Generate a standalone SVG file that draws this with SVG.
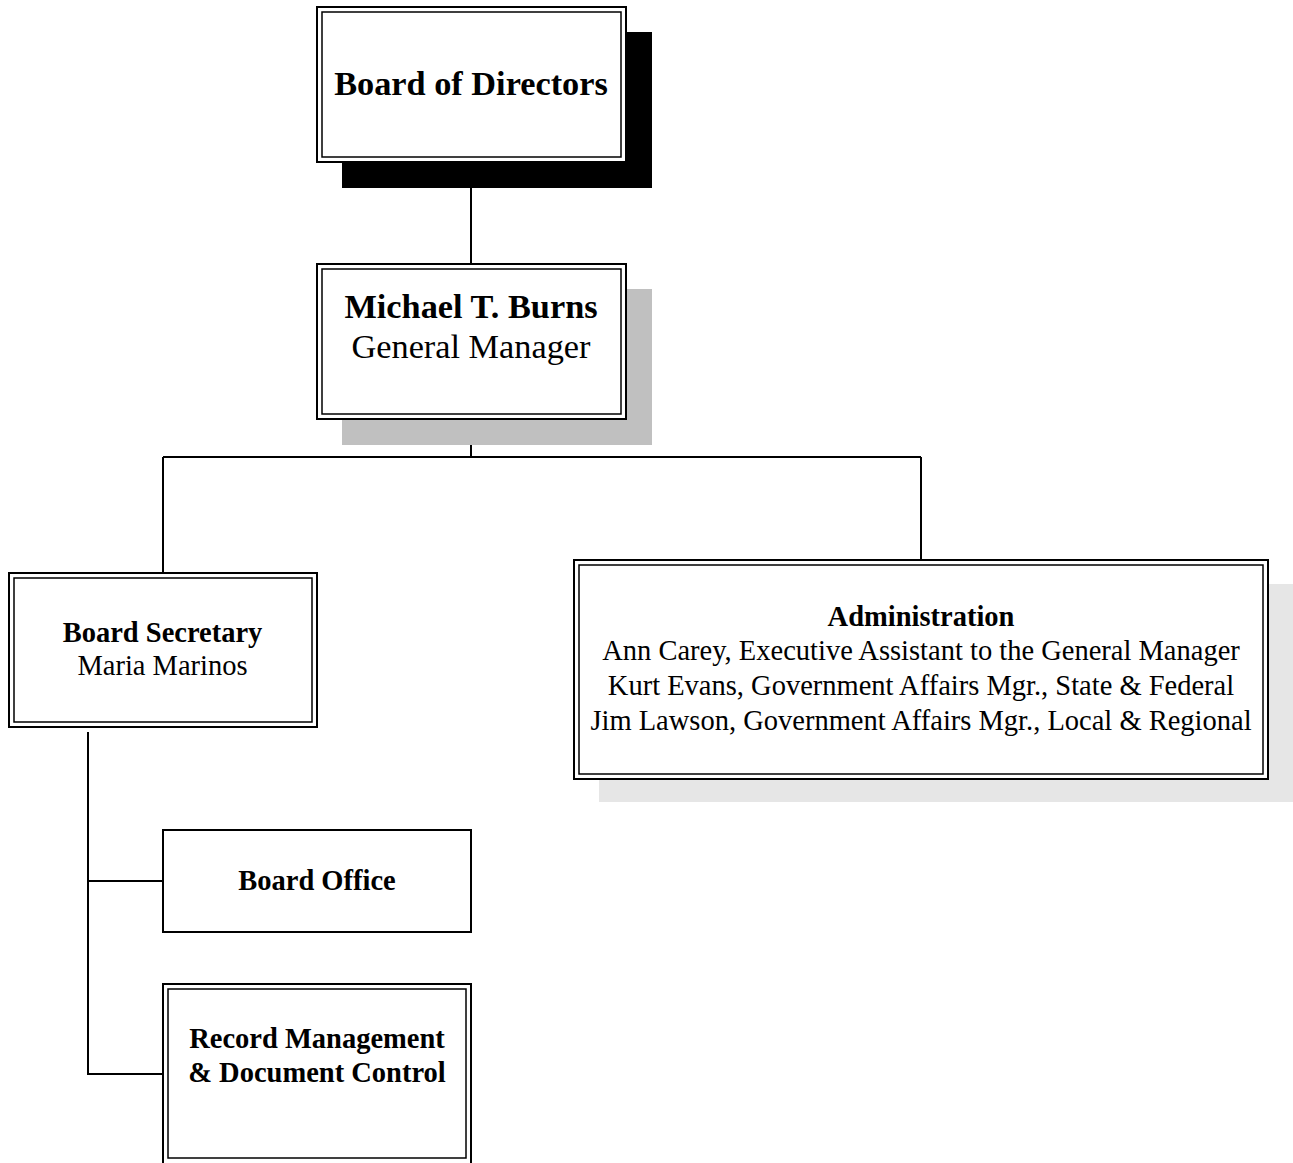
<svg xmlns="http://www.w3.org/2000/svg" width="1293" height="1163" viewBox="0 0 1293 1163">
<style>
text{font-family:"Liberation Serif","Times New Roman",serif;fill:#000;text-anchor:middle}
.b{font-weight:bold}
.big{font-size:34.3px}
.sm{font-size:28.5px}
.o{fill:#fff;stroke:#000;stroke-width:2}
.i{fill:none;stroke:#000;stroke-width:1.5}
.c{fill:none;stroke:#000;stroke-width:2}
</style>
<rect width="1293" height="1163" fill="#fff"/>
<g id="connectors">
<path class="c" d="M471 162V263M471 419V457M163 457H921M163 457V573M921 457V560M88 732V1075M88 881H163M88 1074H163"/>
</g>
<g id="board-of-directors">
<rect x="342" y="32" width="310" height="156" fill="#000"/>
<rect class="o" x="317" y="7" width="309" height="155"/>
<rect class="i" x="322" y="12" width="299" height="145"/>
<text class="b big" x="471" y="95">Board of Directors</text>
</g>
<g id="general-manager">
<rect x="342" y="289" width="310" height="156" fill="#c0c0c0"/>
<rect class="o" x="317" y="264" width="309" height="155"/>
<rect class="i" x="322" y="269" width="299" height="145"/>
<text class="b big" x="471" y="318">Michael T. Burns</text>
<text class="big" x="471" y="358">General Manager</text>
</g>
<g id="board-secretary">
<rect class="o" x="9" y="573" width="308" height="154"/>
<rect class="i" x="14" y="578" width="298" height="144"/>
<text class="b sm" x="162.5" y="642">Board Secretary</text>
<text class="sm" x="162.5" y="675">Maria Marinos</text>
</g>
<g id="administration">
<rect x="599" y="584" width="700" height="218" fill="#e6e6e6"/>
<rect class="o" x="574" y="560" width="694" height="219"/>
<rect class="i" x="579" y="565" width="684" height="209"/>
<text class="b sm" x="921" y="626">Administration</text>
<text class="sm" x="921" y="660">Ann Carey, Executive Assistant to the General Manager</text>
<text class="sm" x="921" y="695">Kurt Evans, Government Affairs Mgr., State &amp; Federal</text>
<text class="sm" x="921" y="730">Jim Lawson, Government Affairs Mgr., Local &amp; Regional</text>
</g>
<g id="board-office">
<rect class="o" x="163" y="830" width="308" height="102"/>
<text class="b sm" x="317" y="890">Board Office</text>
</g>
<g id="record-management">
<rect class="o" x="163" y="984" width="308" height="180"/>
<rect class="i" x="168" y="989" width="298" height="169"/>
<text class="b sm" x="317" y="1048">Record Management</text>
<text class="b sm" x="317" y="1082">&amp; Document Control</text>
</g>
</svg>
